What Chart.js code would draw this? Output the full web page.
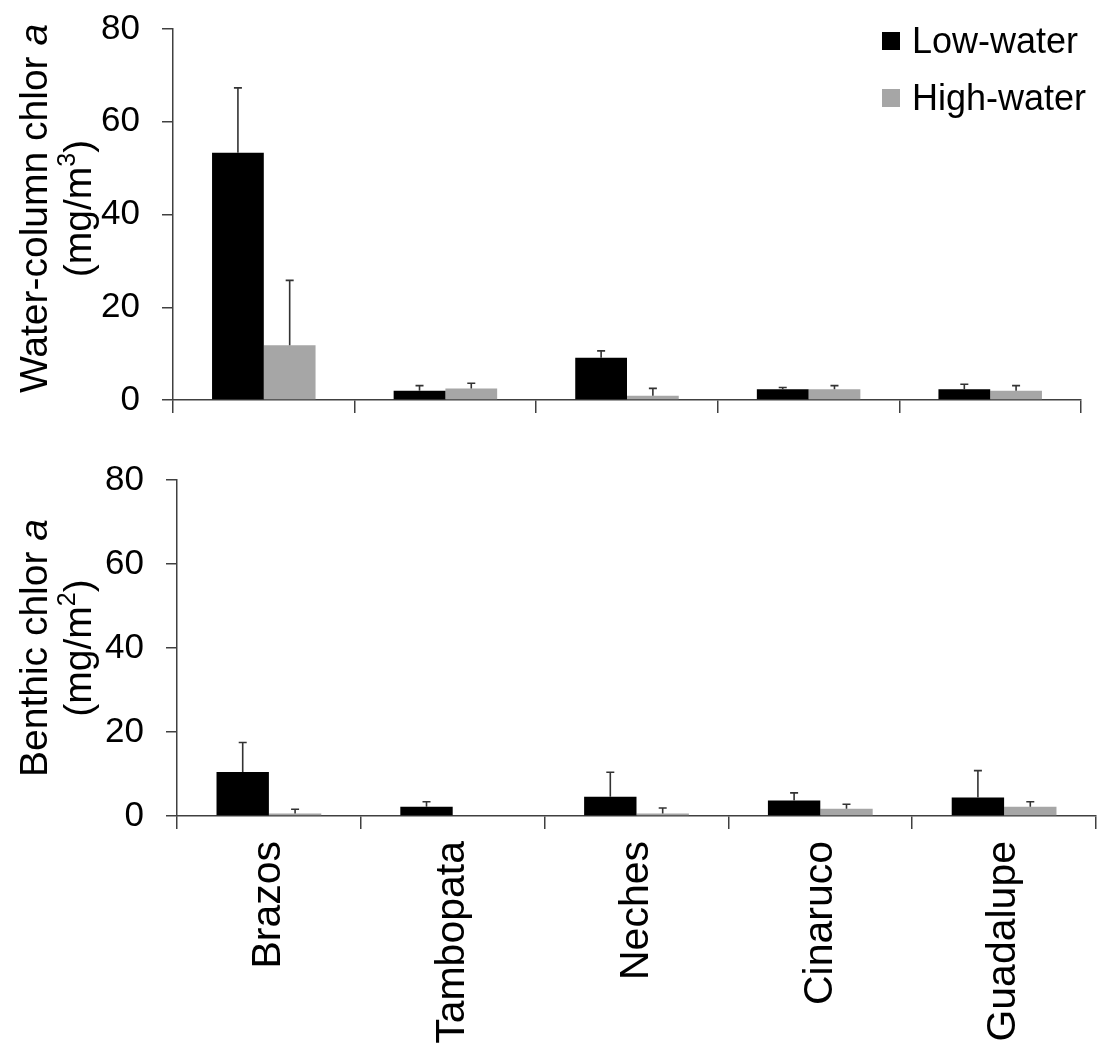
<!DOCTYPE html>
<html>
<head>
<meta charset="utf-8">
<script src="https://cdn.jsdelivr.net/npm/chart.js@4.4.1/dist/chart.umd.min.js"></script>
<style>
  body { margin: 0; background: #fff; font-family: "Liberation Sans", Arial, sans-serif; }
  #wrap { position: relative; width: 1099px; height: 1049px; }
  .panel { position: absolute; left: 0; width: 1099px; }
  #legend { position: absolute; left: 882px; top: 12px; font-size: 36px; color: #000; }
  #legend div { height: 57px; display: flex; align-items: center; }
  #legend span.box { width: 18px; height: 18px; margin-right: 12px; display: inline-block; }
</style>
</head>
<body>
<div id="wrap">
  <div class="panel" style="top:0;height:440px"><canvas id="waterChart"></canvas></div>
  <div class="panel" style="top:440px;height:609px"><canvas id="benthicChart"></canvas></div>
  <div id="legend"></div>
</div>
<script>
// data
const rivers = ["Brazos", "Tambopata", "Neches", "Cinaruco", "Guadalupe"];
const seriesNames = ["Low-water", "High-water"];
const seriesColors = ["#000000", "#a6a6a6"];
const yTicks = [0, 20, 40, 60, 80];

const waterLow = [53.3, 2.0, 9.1, 2.3, 2.3];
const waterLowSd = [14.0, 1.1, 1.5, 0.4, 1.1];
const waterHigh = [11.8, 2.5, 0.9, 2.3, 2.0];
const waterHighSd = [14.0, 1.1, 1.6, 0.8, 1.1];

const benthicLow = [10.5, 2.2, 4.6, 3.7, 4.4];
const benthicLowSd = [7.0, 1.2, 5.8, 1.8, 6.4];
const benthicHigh = [0.6, 0, 0.6, 1.7, 2.2];
const benthicHighSd = [1.0, 0, 1.3, 1.1, 1.2];

const FONT = "'Liberation Sans', Arial, sans-serif";
const AXIS = "#404040";

// upward-only error bars with a small cap
const errorBars = {
  id: "errorBars",
  afterDatasetsDraw(chart) {
    const ctx = chart.ctx;
    const y = chart.scales.y;
    ctx.save();
    ctx.strokeStyle = "#333";
    ctx.lineWidth = 1.6;
    chart.data.datasets.forEach((ds, i) => {
      chart.getDatasetMeta(i).data.forEach((bar, j) => {
        const err = ds.errors[j];
        if (!err) return;
        const top = y.getPixelForValue(ds.data[j] + err);
        ctx.beginPath();
        ctx.moveTo(bar.x, bar.y);
        ctx.lineTo(bar.x, top);
        ctx.moveTo(bar.x - 4, top);
        ctx.lineTo(bar.x + 4, top);
        ctx.stroke();
      });
    });
    ctx.restore();
  }
};

// two-line rotated y title with italic "a" and a superscript
const yTitle = {
  id: "yTitle",
  afterDraw(chart, args, opts) {
    const ctx = chart.ctx;
    const area = chart.chartArea;
    const cy = (area.top + area.bottom) / 2 + opts.shift;
    const size = 39;
    const normal = size + "px " + FONT;
    const italic = "italic " + size + "px " + FONT;
    const sup = Math.round(size * 0.65) + "px " + FONT;
    const drawLine = (parts, bx) => {
      let w = 0;
      parts.forEach(p => { ctx.font = p.f; w += ctx.measureText(p.t).width; });
      ctx.save();
      ctx.translate(bx, cy);
      ctx.rotate(-Math.PI / 2);
      ctx.fillStyle = "#000";
      ctx.textBaseline = "alphabetic";
      let x = -w / 2;
      parts.forEach(p => {
        ctx.font = p.f;
        ctx.fillText(p.t, x, p.up ? -size * 0.42 : 0);
        x += ctx.measureText(p.t).width;
      });
      ctx.restore();
    };
    drawLine([{ t: opts.main + " ", f: normal }, { t: "a", f: italic }], 47);
    drawLine([{ t: "(mg/m", f: normal }, { t: opts.power, f: sup, up: true }, { t: ")", f: normal }], 91);
  }
};

function makeChart(id, low, lowSd, high, highSd, main, power, shift, showLabels, xHeight, pad, yWidth) {
  return new Chart(document.getElementById(id), {
    type: "bar",
    data: {
      labels: rivers,
      datasets: [
        { label: seriesNames[0], data: low, errors: lowSd, backgroundColor: seriesColors[0] },
        { label: seriesNames[1], data: high, errors: highSd, backgroundColor: seriesColors[1] }
      ]
    },
    options: {
      responsive: true,
      maintainAspectRatio: false,
      animation: false,
      layout: { padding: pad },
      datasets: { bar: { categoryPercentage: 0.57, barPercentage: 1.0 } },
      plugins: {
        legend: { display: false },
        tooltip: { enabled: false },
        yTitle: { main: main, power: power, shift: shift }
      },
      scales: {
        x: {
          offset: true,
          border: { color: AXIS, width: 1.5 },
          grid: { offset: true, drawOnChartArea: false, drawTicks: true, tickLength: 13, color: AXIS, lineWidth: 1.5 },
          ticks: {
            display: showLabels, color: "#000", font: { family: FONT, size: 41 },
            minRotation: 90, maxRotation: 90, padding: 12, autoSkip: false
          },
          afterFit(scale) { scale.height = xHeight; }
        },
        y: {
          min: 0, max: 80,
          afterBuildTicks(scale) { scale.ticks = yTicks.map(v => ({ value: v })); },
          border: { color: AXIS, width: 1.5 },
          grid: { drawOnChartArea: false, drawTicks: true, tickLength: 11, color: AXIS, lineWidth: 1.5 },
          ticks: { color: "#000", font: { family: FONT, size: 35 }, padding: 22 },
          afterFit(scale) {
            scale.width = yWidth;
            scale.paddingTop = 0;
            scale.paddingBottom = 0;
          }
        }
      }
    },
    plugins: [errorBars, yTitle]
  });
}

makeChart("waterChart", waterLow, waterLowSd, waterHigh, waterHighSd,
  "Water-column chlor", "3", -6, false, 40, { top: 29, right: 18, left: 0, bottom: 0 }, 173);
makeChart("benthicChart", benthicLow, benthicLowSd, benthicHigh, benthicHighSd,
  "Benthic chlor", "2", 0, true, 233, { top: 40, right: 3, left: 0, bottom: 0 }, 177);

// legend built from the series
const legend = document.getElementById("legend");
seriesNames.forEach((name, i) => {
  const row = document.createElement("div");
  row.innerHTML = '<span class="box" style="background:' + seriesColors[i] + '"></span>' + name;
  legend.appendChild(row);
});
</script>
</body>
</html>
